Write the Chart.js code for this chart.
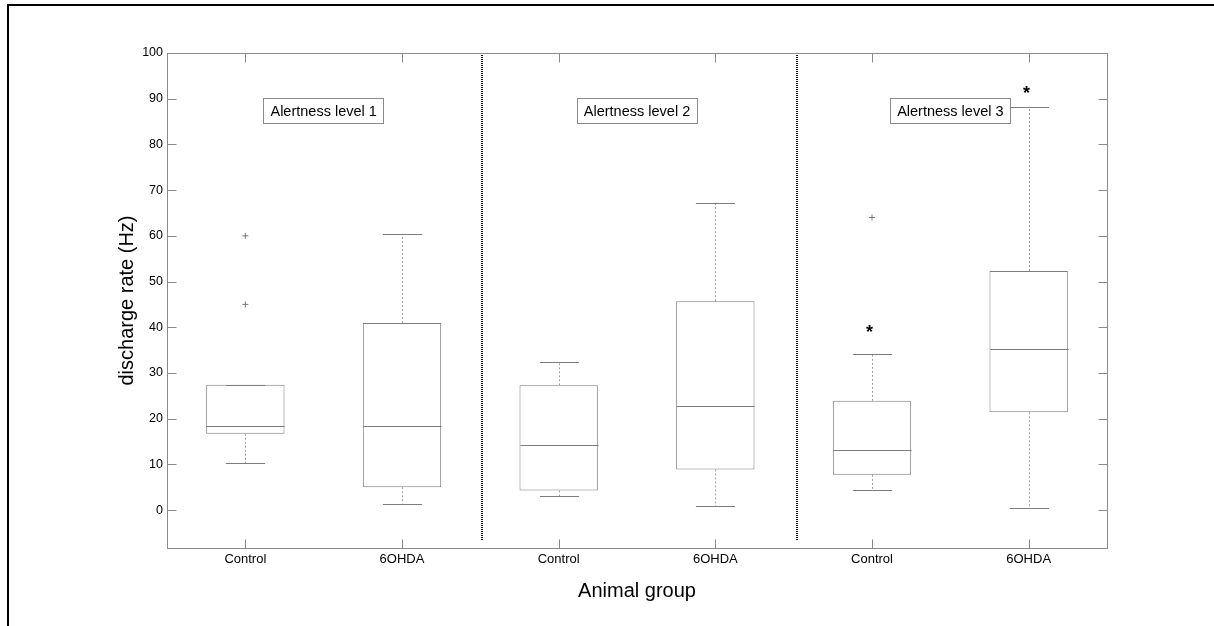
<!DOCTYPE html>
<html>
<head>
<meta charset="utf-8">
<script src="https://cdn.jsdelivr.net/npm/chart.js@4/dist/chart.umd.min.js"></script>
<style>
html,body{margin:0;padding:0;background:#fff;}
#wrap{width:1214px;height:626px;position:relative;}
</style>
</head>
<body>
<div id="wrap"><canvas id="boxChart" width="1214" height="626"></canvas></div>
<script>
// data
var groups   = ['Control','6OHDA','Control','6OHDA','Control','6OHDA'];
var q1       = [16.7, 5.0, 4.3, 8.9, 7.7, 21.4];
var q3       = [27.4, 40.9, 27.3, 45.7, 23.9, 52.3];
var medians  = [18.5, 18.4, 14.2, 22.8, 13.1, 35.2];
var whiskLo  = [10.2, 1.4, 3.0, 0.9, 4.3, 0.4];
var whiskHi  = [27.4, 60.3, 32.5, 67.2, 34.1, 88.2];
var outliers = [[60, 45], [], [], [], [64], []];
var stars    = [null, null, null, null, 39.8, 92.2];
var levels   = ['Alertness level 1','Alertness level 2','Alertness level 3'];
var levelY   = 87.4;
var sepAt    = [1.51, 3.52];
var yTicks   = [0,10,20,30,40,50,60,70,80,90,100];

var FONT = '"Liberation Sans", Arial, sans-serif';
var AXIS = '#8a8a8a';
var BOX  = '#7d7d7d';

// one point dataset per outlier rank, aligned with the categories
var outSets = [];
for (var r = 0; r < 2; r++) {
    outSets.push({
        type: 'line',
        data: outliers.map(function (o) { return o.length > r ? o[r] : null; }),
        showLine: false,
        pointStyle: 'cross',
        pointRadius: 3,
        pointBorderColor: '#777',
        pointBorderWidth: 1,
        order: 1
    });
}

var boxPlugin = {
    id: 'boxparts',
    beforeDraw: function (chart) {
        var ctx = chart.ctx;
        ctx.save();
        ctx.fillStyle = '#fff';
        ctx.fillRect(0, 0, chart.width, chart.height);
        // outer figure frame (top + left only visible)
        ctx.fillStyle = '#000';
        ctx.fillRect(7, 4, chart.width - 7, 2);
        ctx.fillRect(7, 4, 2, chart.height - 4);
        ctx.restore();
    },
    afterDatasetsDraw: function (chart) {
        var ctx = chart.ctx, xs = chart.scales.x, ys = chart.scales.y;
        var area = chart.chartArea;
        var bars = chart.getDatasetMeta(0).data;
        ctx.save();
        for (var i = 0; i < groups.length; i++) {
            var cx = Math.round(xs.getPixelForValue(i)) + 0.5;
            var w = bars[i].width;
            var cap = w / 2;
            var yq1 = ys.getPixelForValue(q1[i]), yq3 = ys.getPixelForValue(q3[i]);
            var ylo = ys.getPixelForValue(whiskLo[i]), yhi = ys.getPixelForValue(whiskHi[i]);
            // whiskers
            ctx.strokeStyle = '#a0a0a0';
            ctx.lineWidth = 1;
            ctx.setLineDash([2, 2]);
            ctx.beginPath();
            ctx.moveTo(cx, yq3); ctx.lineTo(cx, yhi);
            ctx.moveTo(cx, yq1); ctx.lineTo(cx, ylo);
            ctx.stroke();
            ctx.setLineDash([]);
            ctx.strokeStyle = BOX;
            ctx.beginPath();
            ctx.moveTo(cx - cap / 2, Math.round(yhi) + 0.5); ctx.lineTo(cx + cap / 2, Math.round(yhi) + 0.5);
            ctx.moveTo(cx - cap / 2, Math.round(ylo) + 0.5); ctx.lineTo(cx + cap / 2, Math.round(ylo) + 0.5);
            ctx.stroke();
            // median
            var ym = Math.round(ys.getPixelForValue(medians[i])) + 0.5;
            ctx.beginPath();
            ctx.moveTo(cx - w / 2, ym); ctx.lineTo(cx + w / 2, ym);
            ctx.stroke();
            // significance star
            if (stars[i] !== null) {
                ctx.fillStyle = '#000';
                ctx.font = 'bold 18px ' + FONT;
                ctx.textAlign = 'center';
                ctx.textBaseline = 'alphabetic';
                ctx.fillText('*', cx - 3, ys.getPixelForValue(stars[i]) + 10);
            }
        }
        // dotted separators between alertness levels
        ctx.strokeStyle = '#111';
        ctx.lineWidth = 2;
        ctx.setLineDash([1, 1]);
        for (var s = 0; s < sepAt.length; s++) {
            var sx = Math.round(xs.getPixelForValue(sepAt[s]));
            ctx.beginPath();
            ctx.moveTo(sx, area.top);
            ctx.lineTo(sx, ys.getPixelForValue(-6.6));
            ctx.stroke();
        }
        ctx.setLineDash([]);
        // level labels in boxes
        ctx.font = '14.5px ' + FONT;
        ctx.textAlign = 'center';
        ctx.textBaseline = 'middle';
        for (var g = 0; g < levels.length; g++) {
            var lx = xs.getPixelForValue(g * 2 + 0.5);
            var ly = ys.getPixelForValue(levelY);
            var tw = ctx.measureText(levels[g]).width + 14;
            ctx.fillStyle = '#fff';
            ctx.fillRect(Math.round(lx - tw / 2) + 0.5, Math.round(ly - 12.5) + 0.5, Math.round(tw), 25);
            ctx.strokeStyle = AXIS;
            ctx.lineWidth = 1;
            ctx.strokeRect(Math.round(lx - tw / 2) + 0.5, Math.round(ly - 12.5) + 0.5, Math.round(tw), 25);
            ctx.fillStyle = '#000';
            ctx.fillText(levels[g], lx, ly + 1);
        }
        // plot frame and inward ticks
        ctx.strokeStyle = AXIS;
        ctx.lineWidth = 1;
        var L = Math.round(area.left) + 0.5, R = Math.round(area.right) + 0.5;
        var T = Math.round(area.top) + 0.5, B = Math.round(area.bottom) + 0.5;
        ctx.strokeRect(L, T, R - L, B - T);
        ctx.beginPath();
        for (var t = 0; t < yTicks.length; t++) {
            var ty = Math.round(ys.getPixelForValue(yTicks[t])) + 0.5;
            ctx.moveTo(L, ty); ctx.lineTo(L + 9, ty);
            ctx.moveTo(R, ty); ctx.lineTo(R - 9, ty);
        }
        for (var j = 0; j < groups.length; j++) {
            var tx = Math.round(xs.getPixelForValue(j)) + 0.5;
            ctx.moveTo(tx, T); ctx.lineTo(tx, T + 9);
            ctx.moveTo(tx, B); ctx.lineTo(tx, B - 9);
        }
        ctx.stroke();
        ctx.restore();
    }
};

new Chart(document.getElementById('boxChart'), {
    type: 'bar',
    data: {
        labels: groups,
        datasets: [{
            data: groups.map(function (g, i) { return [q1[i], q3[i]]; }),
            backgroundColor: '#fff',
            borderColor: BOX,
            borderWidth: 1,
            borderSkipped: false,
            barPercentage: 0.5,
            categoryPercentage: 1.0,
            order: 2
        }].concat(outSets)
    },
    options: {
        responsive: false,
        animation: false,
        events: [],
        layout: {padding: {top: 53, right: 107, bottom: 0, left: 0}},
        plugins: {legend: {display: false}, tooltip: {enabled: false}},
        scales: {
            x: {
                offset: true,
                grid: {display: false, drawTicks: false},
                border: {display: false},
                ticks: {color: '#000', font: {family: FONT, size: 13}, padding: 4, maxRotation: 0},
                title: {display: true, text: 'Animal group', color: '#000',
                        font: {family: FONT, size: 20}, padding: {top: 0, bottom: 23}},
                afterFit: function (scale) { scale.height = 78; }
            },
            y: {
                min: -8.3,
                max: 100,
                grid: {display: false, drawTicks: false},
                border: {display: false},
                ticks: {color: '#000', font: {family: FONT, size: 12.5}, padding: 4},
                afterBuildTicks: function (scale) {
                    scale.ticks = yTicks.map(function (v) { return {value: v}; });
                },
                title: {display: true, text: 'discharge rate (Hz)', color: '#000',
                        font: {family: FONT, size: 20}, padding: {top: 115, bottom: 0}},
                afterFit: function (scale) { scale.width = 167; }
            }
        }
    },
    plugins: [boxPlugin]
});
</script>
</body>
</html>
